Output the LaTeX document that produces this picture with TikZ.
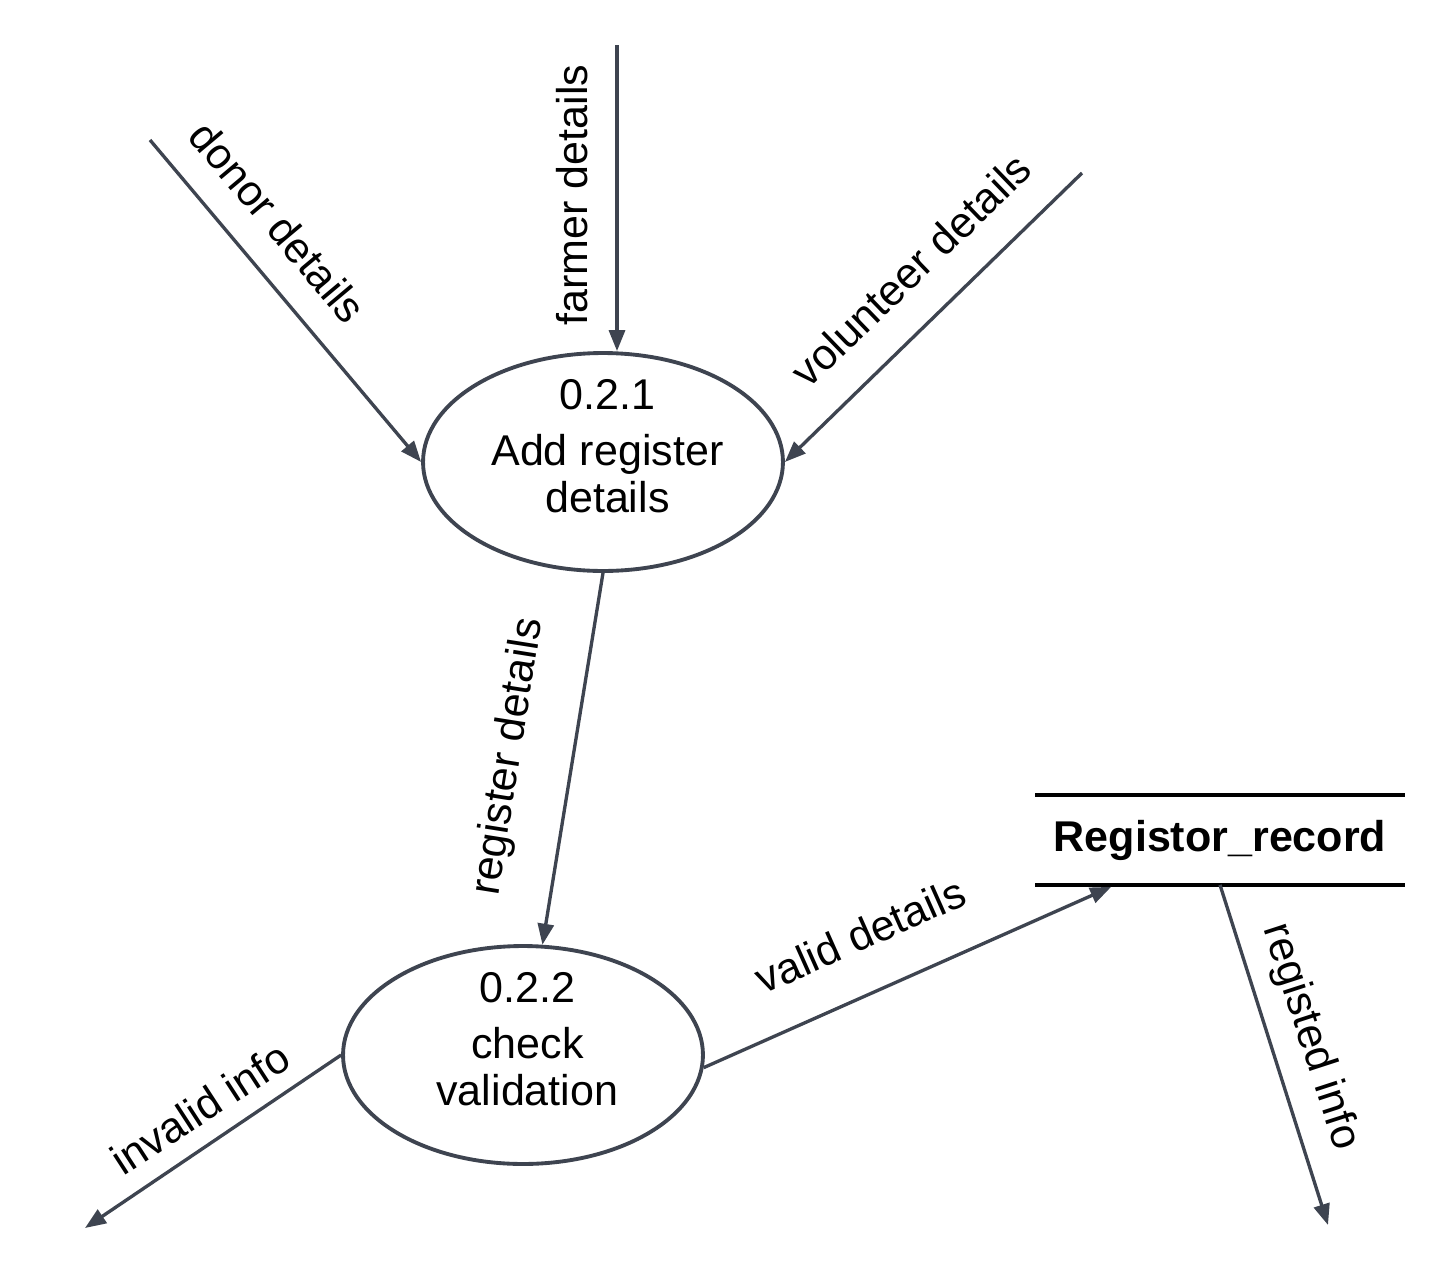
\documentclass[tikz,border=0pt]{standalone}
\usepackage{fontspec}
\setmainfont{Liberation Sans}
\usepackage{tikz}
\usetikzlibrary{shapes.geometric,arrows.meta,positioning,calc}
\usepackage{xcolor}
\definecolor{flowgray}{RGB}{62,68,80}

% text block inside a process bubble
\newcommand{\bubbletext}[3]{\hspace*{5pt}\raisebox{0pt}[25pt][25pt]{\begin{tabular}{@{}c@{}}#1\\[4pt]#2\\[-1pt]#3\end{tabular}}}

\begin{document}
\begin{tikzpicture}[
    x=0.02cm, y=-0.02cm,
    every node/.style={font=\fontsize{24.5}{28}\selectfont},
    process/.style={ellipse, draw=flowgray, line width=2.2pt, fill=white,
        minimum width=7.2cm, minimum height=4.36cm, inner sep=0pt},
    store/.style={minimum width=7.38cm, minimum height=1.78cm, inner sep=0pt,
        font=\fontsize{24.5}{28}\selectfont\bfseries},
    flow/.style={draw=flowgray, line width=1.9pt,
        -{Triangle[length=0.42cm, width=0.32cm]}},
    flowlabel/.style={inner sep=1pt}
]
\useasboundingbox (0,0) rectangle (1445,1272);

% processes
\node[process] (add) at (603,462) {\bubbletext{0.2.1}{Add register}{details}};
\node[process] (check) at (523,1055) {\bubbletext{0.2.2}{check}{validation}};

% data store
\node[store] (record) at (1220,840) {Registor\_record};
\draw[line width=2.3pt] (record.north west) -- (record.north east);
\draw[line width=2.3pt] (record.south west) -- (record.south east);

% free ends
\coordinate (farmer) at (617,45);
\coordinate (donor) at (150,140);
\coordinate (volunteer) at (1082,173);
\coordinate (invalid) at (85,1228);
\coordinate (registed) at (1328,1225);
\coordinate (valid) at ($(record.south west)+(76,2)$);

% flows
\draw[flow] (farmer) -- (farmer |- add.north);
\draw[flow] (donor) -- (add.west);
\draw[flow] (volunteer) -- (add.east);
\draw[flow] (add.south) -- (check.80);
\draw[flow] (check.-4) -- (valid);
\draw[flow] (check.west) -- (invalid);
\draw[flow] (record.south) -- (registed);

% flow labels
\node[flowlabel, rotate=90] (farmerlbl) at (572,195) {farmer details};
\node[flowlabel, rotate=-50] (donorlbl) at (278,222) {donor details};
\node[flowlabel, rotate=44] (volunteerlbl) at (911,270) {volunteer details};
\node[flowlabel, rotate=81] (registerlbl) at (509,757) {register details};
\node[flowlabel, rotate=24] (validlbl) at (860,935) {valid details};
\node[flowlabel, rotate=33] (invalidlbl) at (200,1108) {invalid info};
\node[flowlabel, rotate=-72] (registedlbl) at (1310,1037) {registed info};
\end{tikzpicture}
\end{document}
